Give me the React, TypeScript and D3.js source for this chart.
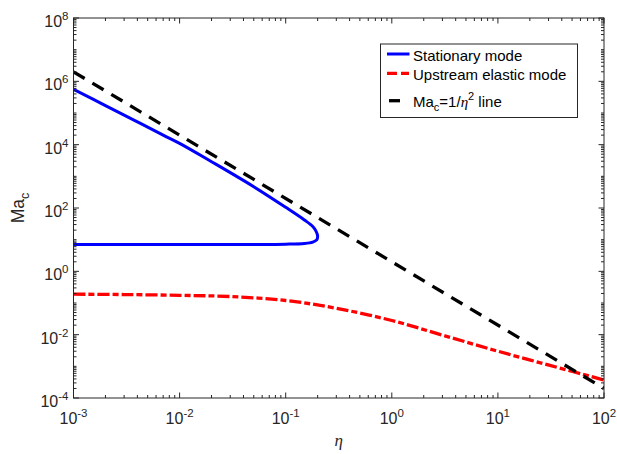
import * as d3 from "d3";
import { useEffect, useRef } from "react";

// stationary mode (upper branch, turning point, lower branch)
const etaStationary = [0.001, 0.002, 0.004, 0.007, 0.01, 0.02, 0.05, 0.1, 0.15, 0.18, 0.194, 0.2, 0.196, 0.18, 0.15, 0.1, 0.05, 0.01, 0.001];
const maStationary = [5.6e5, 1.72e5, 5.25e4, 2.0e4, 1.1e4, 2.9e3, 4.7e2, 105, 42, 26, 18, 13, 9.8, 8.4, 7.6, 7.2, 7.05, 7.0, 7.0];

// upstream elastic mode
const etaUpstream = [0.001, 0.003, 0.01, 0.03, 0.1, 0.3, 1, 3.16, 10, 31.6, 100];
const maUpstream = [0.19, 0.185, 0.175, 0.16, 0.12, 0.068, 0.028, 0.0092, 0.003, 0.00105, 3.7e-4];

// Ma_c = 1/eta^2 reference line (as drawn)
const etaLine = [0.001, 100];
const maLine = [2e6, 2e-4];

const xTickValues = [-3, -2, -1, 0, 1, 2];
const yTickValues = [-4, -2, 0, 2, 4, 6, 8];

const legendLabels = ["Stationary mode", "Upstream elastic mode", "Ma_c=1/eta^2 line"];

const W = 617;
const H = 454;
const M = { left: 73.5, right: 604, top: 18, bottom: 398 };
const AX = "#262626";
const FONT = "'Liberation Sans', Arial, Helvetica, sans-serif";

export default function App() {
  const ref = useRef<SVGSVGElement>(null);

  useEffect(() => {
    const svg = d3.select(ref.current);
    svg.selectAll("*").remove();

    const x = d3.scaleLog().domain([1e-3, 1e2]).range([M.left, M.right]);
    const y = d3.scaleLog().domain([1e-4, 1e8]).range([M.bottom, M.top]);

    svg.append("rect").attr("width", W).attr("height", H).attr("fill", "white");

    svg
      .append("clipPath")
      .attr("id", "plot-clip")
      .append("rect")
      .attr("x", M.left)
      .attr("y", M.top)
      .attr("width", M.right - M.left)
      .attr("height", M.bottom - M.top);

    const plot = svg.append("g").attr("clip-path", "url(#plot-clip)");

    const line = d3
      .line<[number, number]>()
      .x((d) => x(d[0]))
      .y((d) => y(d[1]))
      .curve(d3.curveCatmullRom.alpha(0.5));

    const stationary = etaStationary.map((e, i) => [e, maStationary[i]] as [number, number]);
    const upstream = etaUpstream.map((e, i) => [e, maUpstream[i]] as [number, number]);
    const ref2 = etaLine.map((e, i) => [e, maLine[i]] as [number, number]);

    plot
      .append("path")
      .attr("d", line(stationary))
      .attr("fill", "none")
      .attr("stroke", "#0000ff")
      .attr("stroke-width", 3)
      .attr("stroke-linejoin", "round");

    plot
      .append("path")
      .attr("d", line(upstream))
      .attr("fill", "none")
      .attr("stroke", "#ff0000")
      .attr("stroke-width", 3.3)
      .attr("stroke-dasharray", "12,3,6,3");

    plot
      .append("path")
      .attr("d", d3.line<[number, number]>().x((d) => x(d[0])).y((d) => y(d[1]))(ref2))
      .attr("fill", "none")
      .attr("stroke", "#000")
      .attr("stroke-width", 3.3)
      .attr("stroke-dasharray", "13,9");

    // axes box
    const axes = svg.append("g").attr("stroke", AX).attr("stroke-width", 1).attr("fill", "none");
    axes
      .append("rect")
      .attr("x", M.left)
      .attr("y", M.top)
      .attr("width", M.right - M.left)
      .attr("height", M.bottom - M.top);

    // x ticks (inside, bottom and top)
    for (let p = -3; p <= 2; p++) {
      for (let k = 1; k <= 9; k++) {
        const v = k * Math.pow(10, p);
        if (v > 100.0001) continue;
        const len = k === 1 ? 5.5 : 3;
        const xv = x(v);
        axes.append("line").attr("x1", xv).attr("x2", xv).attr("y1", M.bottom).attr("y2", M.bottom - len);
        axes.append("line").attr("x1", xv).attr("x2", xv).attr("y1", M.top).attr("y2", M.top + len);
      }
    }

    // y ticks (inside, left and right)
    for (let p = -4; p <= 8; p++) {
      for (let k = 1; k <= 9; k++) {
        const v = k * Math.pow(10, p);
        if (v > 1.0001e8) continue;
        const len = k === 1 && p % 2 === 0 ? 5.5 : 3;
        const yv = y(v);
        axes.append("line").attr("y1", yv).attr("y2", yv).attr("x1", M.left).attr("x2", M.left + len);
        axes.append("line").attr("y1", yv).attr("y2", yv).attr("x1", M.right).attr("x2", M.right - len);
      }
    }

    const labels = svg.append("g").attr("fill", AX).attr("font-family", FONT);

    xTickValues.forEach((p) => {
      const t = labels
        .append("text")
        .attr("x", x(Math.pow(10, p)))
        .attr("y", M.bottom + 26)
        .attr("text-anchor", "middle")
        .attr("font-size", 16);
      t.append("tspan").text("10");
      t.append("tspan").attr("font-size", 11.5).attr("dy", -7).text(String(p));
    });

    yTickValues.forEach((p) => {
      const t = labels
        .append("text")
        .attr("x", M.left - 5)
        .attr("y", y(Math.pow(10, p)) + 9)
        .attr("text-anchor", "end")
        .attr("font-size", 16);
      t.append("tspan").text("10");
      t.append("tspan").attr("font-size", 11.5).attr("dy", -7).text(String(p));
    });

    // axis labels
    labels
      .append("text")
      .attr("x", (M.left + M.right) / 2)
      .attr("y", 446)
      .attr("text-anchor", "middle")
      .attr("font-family", "'Liberation Serif', 'Times New Roman', serif")
      .attr("font-style", "italic")
      .attr("font-size", 17)
      .text("η");

    const yl = labels
      .append("text")
      .attr("transform", `translate(24,${(M.top + M.bottom) / 2}) rotate(-90)`)
      .attr("text-anchor", "middle")
      .attr("font-size", 17.5);
    yl.append("tspan").text("Ma");
    yl.append("tspan").attr("font-size", 12.5).attr("dy", 5).text("c");

    // legend
    const lg = svg.append("g").attr("font-family", FONT).attr("font-size", 15).attr("fill", "#000");
    lg.append("rect")
      .attr("x", 380.5)
      .attr("y", 44)
      .attr("width", 197)
      .attr("height", 73.5)
      .attr("fill", "white")
      .attr("stroke", AX)
      .attr("stroke-width", 1);

    const rows = [
      { ly: 54, ty: 60.7, color: "#0000ff", dash: null as string | null, off: 0 },
      { ly: 73.3, ty: 80, color: "#ff0000", dash: "10,4,8,3", off: 0 },
      { ly: 100.7, ty: 106.7, color: "#000", dash: "11,20", off: -2 },
    ];
    rows.forEach((r, i) => {
      const l = lg
        .append("line")
        .attr("x1", 387)
        .attr("x2", 409.5)
        .attr("y1", r.ly)
        .attr("y2", r.ly)
        .attr("stroke", r.color)
        .attr("stroke-width", i === 0 ? 3 : 3.3);
      if (r.dash) l.attr("stroke-dasharray", r.dash).attr("stroke-dashoffset", r.off);
      if (i < 2) {
        lg.append("text").attr("x", 413).attr("y", r.ty).text(legendLabels[i]);
      } else {
        const t = lg.append("text").attr("x", 413).attr("y", r.ty);
        t.append("tspan").text("Ma");
        t.append("tspan").attr("font-size", 11).attr("dy", 4).text("c");
        t.append("tspan").attr("dy", -4).text("=1/");
        t.append("tspan")
          .attr("font-family", "'Liberation Serif', 'Times New Roman', serif")
          .attr("font-style", "italic")
          .text("η");
        t.append("tspan").attr("font-size", 11).attr("dy", -7).text("2");
        t.append("tspan").attr("dy", 7).text(" line");
      }
    });
  }, []);

  return (
    <svg
      ref={ref}
      width={W}
      height={H}
      style={{ position: "absolute", left: 0, top: 0, display: "block" }}
    />
  );
}
